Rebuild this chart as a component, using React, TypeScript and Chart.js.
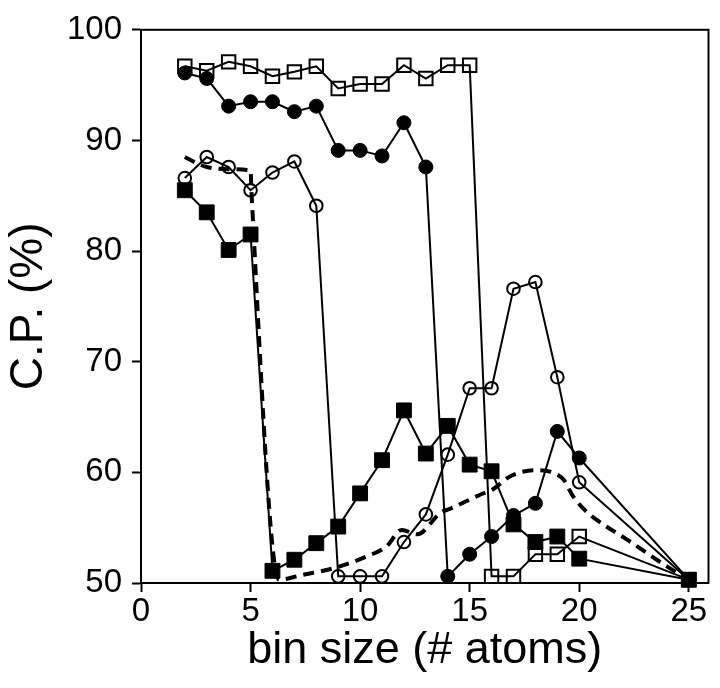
import React, { useEffect, useRef } from "react";
import { Chart, registerables } from "chart.js";

Chart.register(...registerables);

// ---- data ----
const binSizes = [2, 3, 4, 5, 6, 7, 8, 9, 10, 11, 12, 13, 14, 15, 16, 17, 18, 19, 20, 25];
const openSquareCP = [96.7, 96.3, 97.1, 96.7, 95.8, 96.2, 96.7, 94.7, 95.1, 95.1, 96.8, 95.6, 96.8, 96.8, 50.6, 50.6, 52.6, 52.6, 54.2, 50.3];
const filledCircleCP = [96.1, 95.6, 93.1, 93.5, 93.5, 92.6, 93.1, 89.1, 89.1, 88.6, 91.6, 87.6, 50.6, 52.6, 54.2, 56.1, 57.2, 63.7, 61.3, 50.3];
const openCircleCP = [86.6, 88.5, 87.6, 85.5, 87.1, 88.1, 84.1, 50.6, 50.6, 50.6, 53.7, 56.2, 61.6, 67.6, 67.6, 76.6, 77.2, 68.6, 59.1, 50.3];
const filledSquareCP = [85.5, 83.5, 80.1, 81.5, 51.1, 52.1, 53.6, 55.1, 58.1, 61.1, 65.6, 61.7, 64.2, 60.7, 60.1, 55.3, 53.7, 54.2, 52.2, 50.3];
const averageBins = [2, 2.6, 3, 4, 5, 5.05, 6.3, 7.3, 8.9, 10.3, 11.2, 11.9, 12.6, 13.7, 14.1, 15.5, 16.0, 16.9, 18.0, 18.9, 19.3, 19.7, 20.2, 20.8, 22.2, 24.0, 24.9];
const averageCP = [88.5, 87.9, 87.6, 87.4, 87.3, 85.0, 50.3, 50.7, 51.4, 52.4, 53.3, 54.8, 54.4, 56.4, 56.7, 58.0, 58.4, 59.7, 60.2, 59.9, 59.3, 57.9, 56.7, 55.7, 53.9, 51.5, 50.4];
const xTickValues = [0, 5, 10, 15, 20, 25];
const xTitle = "bin size (# atoms)";
const yTitle = "C.P. (%)";

const FONT = '"Liberation Sans", Arial, Helvetica, sans-serif';

const pts = (xs: number[], ys: number[]) => xs.map((x, i) => ({ x, y: ys[i] }));

const frame = {
  id: "frame",
  afterDatasetsDraw(chart: any) {
    const { ctx, chartArea } = chart;
    ctx.save();
    ctx.strokeStyle = "#000";
    ctx.lineWidth = 2;
    ctx.strokeRect(chartArea.left, chartArea.top, chartArea.right - chartArea.left, chartArea.bottom - chartArea.top);
    ctx.restore();
  },
};

export default function App() {
  const ref = useRef<HTMLCanvasElement | null>(null);

  useEffect(() => {
    if (!ref.current) return;
    const seriesBase = {
      showLine: true,
      tension: 0,
      borderColor: "#000",
      pointBorderColor: "#000",
      clip: false as any,
    };
    const chart = new Chart(ref.current, {
      type: "scatter",
      data: {
        datasets: [
          {
            ...seriesBase,
            label: "open squares",
            data: pts(binSizes, openSquareCP),
            borderWidth: 2,
            pointStyle: "rect",
            pointRadius: 9.5,
            pointBorderWidth: 2,
            pointBackgroundColor: "rgba(0,0,0,0)",
          },
          {
            ...seriesBase,
            label: "filled circles",
            data: pts(binSizes, filledCircleCP),
            borderWidth: 2,
            pointStyle: "circle",
            pointRadius: 7,
            pointBorderWidth: 1,
            pointBackgroundColor: "#000",
          },
          {
            ...seriesBase,
            label: "open circles",
            data: pts(binSizes, openCircleCP),
            borderWidth: 2,
            pointStyle: "circle",
            pointRadius: 6.3,
            pointBorderWidth: 2,
            pointBackgroundColor: "rgba(0,0,0,0)",
          },
          {
            ...seriesBase,
            label: "filled squares",
            data: pts(binSizes, filledSquareCP),
            borderWidth: 2,
            pointStyle: "rect",
            pointRadius: 10.5,
            pointBorderWidth: 1,
            pointBackgroundColor: "#000",
          },
          {
            ...seriesBase,
            label: "average",
            data: pts(averageBins, averageCP),
            borderWidth: 4,
            borderDash: [11, 7],
            pointRadius: 0,
            cubicInterpolationMode: "monotone",
          } as any,
        ],
      },
      options: {
        responsive: false,
        animation: false,
        devicePixelRatio: 1,
        layout: { padding: { top: 13, right: 9, left: 0, bottom: 0 } },
        plugins: { legend: { display: false }, tooltip: { enabled: false } },
        scales: {
          x: {
            type: "linear",
            min: 0,
            max: 25.9,
            afterFit: (s: any) => {
              s.height = 105;
            },
            afterBuildTicks: (s: any) => {
              s.ticks = xTickValues.map((v) => ({ value: v }));
            },
            grid: { display: true, drawOnChartArea: false, drawTicks: true, tickLength: 9, tickWidth: 2, color: "#000" },
            border: { display: true, color: "#000", width: 2 },
            ticks: { color: "#000", font: { family: FONT, size: 33, lineHeight: 1.2 }, padding: 0, maxRotation: 0, autoSkip: false },
            title: { display: true, text: xTitle, color: "#000", font: { family: FONT, size: 45, lineHeight: 1.2 }, padding: { top: 0, bottom: 10 } },
          },
          y: {
            type: "linear",
            min: 50,
            max: 100,
            afterFit: (s: any) => {
              s.width = 141;
            },
            grid: { display: true, drawOnChartArea: false, drawTicks: true, tickLength: 9, tickWidth: 2, color: "#000" },
            border: { display: true, color: "#000", width: 2 },
            ticks: { stepSize: 10, color: "#000", font: { family: FONT, size: 33, lineHeight: 1.2 }, padding: 10 },
            title: { display: true, text: yTitle, color: "#000", font: { family: FONT, size: 46, lineHeight: 1.2 }, padding: { top: 2, bottom: 0 } },
          },
        },
      },
      plugins: [frame],
    });
    return () => chart.destroy();
  }, []);

  return (
    <div style={{ position: "fixed", left: 0, top: 0, width: 720, height: 688, background: "#fff" }}>
      <canvas ref={ref} width={720} height={688} style={{ display: "block" }} />
    </div>
  );
}
